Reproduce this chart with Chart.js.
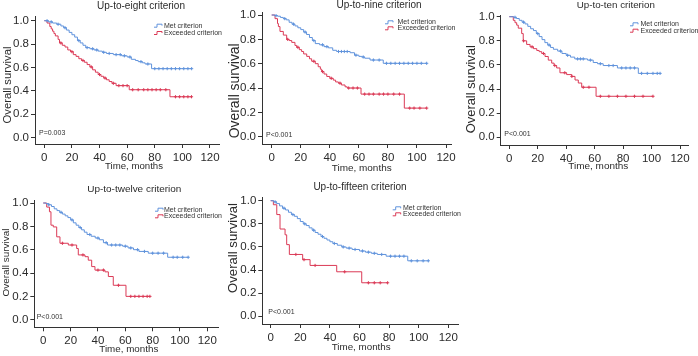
<!DOCTYPE html>
<html><head><meta charset="utf-8">
<script src="https://cdn.jsdelivr.net/npm/chart.js@4.4.1/dist/chart.umd.min.js"></script>
<style>
html,body{margin:0;padding:0;background:#fff;}
#wrap{position:relative;width:698px;height:356px;overflow:hidden;background:#fff;}
canvas{position:absolute;}
</style></head><body><div id="wrap"></div>
<script>
// ---------- text / categories ----------
const panelTitles = ["Up-to-eight criterion","Up-to-nine criterion","Up-to-ten criterion","Up-to-twelve criterion","Up-to-fifteen criterion"];
const seriesLabels = ["Met criterion","Exceeded criterion"];
const pValues = ["P=0.003","P<0.001","P<0.001","P<0.001","P<0.001"];
const xTickValues = [0,20,40,60,80,100,120];
const yTickValues = [0,0.2,0.4,0.6,0.8,1.0];
const xAxisTitle = "Time, months";
const yAxisTitle = "Overall survival";

// ---------- data: event times (months), survival after event, censor times ----------
const p1MetTime = [3,6,9,12,14,16,18,20,22,24,26,28,30,33,36,39,42,45,50,56,60,63,66,68,71,73,77.7];
const p1MetSurv = [0.99,0.98,0.97,0.955,0.94,0.92,0.90,0.88,0.86,0.83,0.81,0.79,0.77,0.76,0.75,0.74,0.73,0.72,0.71,0.70,0.69,0.67,0.66,0.65,0.64,0.63,0.59];
const p1MetCens = [2,5,10,15,25,31,35,38,43,47,52,55,58,62,70,75,80,83,86,89,92,95,98,101,104,106.7];
const p1ExcTime = [2,4,5,6,7,8,10,11,13,15,17,19,21,23,25,27,29,31,33,35,37,39,41,43,45,47,49,52,61.5,91];
const p1ExcSurv = [0.98,0.95,0.93,0.91,0.89,0.87,0.84,0.81,0.79,0.775,0.75,0.735,0.71,0.695,0.675,0.66,0.645,0.625,0.605,0.58,0.56,0.54,0.525,0.51,0.495,0.48,0.465,0.445,0.41,0.35];
const p1ExcCens = [12,20,28,34,40,44,50,54,57,60,64,68,72,75,78,81,84,88,95,98,101,104,106.6];

const p2MetTime = [2,4,6,8,10,12,14,16,18,20,22,24,26,28,30,33,36,39,42,44.7,54,57,60,62,64,67.7,76.8];
const p2MetSurv = [0.995,0.99,0.98,0.97,0.96,0.94,0.925,0.91,0.895,0.88,0.86,0.84,0.815,0.79,0.765,0.755,0.74,0.73,0.71,0.70,0.69,0.67,0.66,0.655,0.645,0.63,0.603];
const p2MetCens = [3,9,15,23,29,35,38,46,48,50,52,58,63,70,74,79,82,85,88,91,94,97,100,103,106.7];
const p2ExcTime = [2.3,4,4.6,5.7,8,10.3,12,13.8,16,17.2,19,20.6,22,24.1,26,27.5,30,32,33.5,34.4,36,37.9,40,42.4,44,45.9,48,50.5,52,61.5,91.3];
const p2ExcSurv = [0.97,0.93,0.905,0.865,0.835,0.80,0.79,0.775,0.75,0.735,0.715,0.70,0.68,0.66,0.64,0.62,0.60,0.575,0.555,0.535,0.515,0.495,0.48,0.465,0.45,0.44,0.425,0.41,0.40,0.35,0.235];
const p2ExcCens = [11,18,29,35,41,47,53,56,59,64,67,70,74,77,80,84,88,95,98,102,106.7];

const p3MetTime = [3,5,7,9,11,13,15,17,19,21,23,25,27,29,31,34,37,40,43,46,55,59,62,66,76,90.7];
const p3MetSurv = [0.995,0.985,0.97,0.955,0.94,0.92,0.90,0.885,0.86,0.835,0.81,0.785,0.765,0.745,0.73,0.715,0.695,0.68,0.665,0.65,0.64,0.62,0.61,0.595,0.575,0.53];
const p3MetCens = [4,10,20,28,36,41,48,50,52,57,64,70,73,79,82,85,88,93,97,101,104,106];
const p3ExcTime = [2.8,4,5.2,6.3,8.7,9.8,12.2,14.6,17,19.3,21,22.8,25.1,27.4,29.8,31.5,33.3,35.6,40.3,43.9,46.2,48.5,50.9,61];
const p3ExcSurv = [0.97,0.95,0.93,0.905,0.86,0.80,0.77,0.75,0.735,0.72,0.71,0.695,0.67,0.64,0.615,0.595,0.575,0.535,0.52,0.505,0.475,0.45,0.415,0.34];
const p3ExcCens = [10,16,24,32,39,44,52,56,64,70,76,82,88,94,101];

const p4MetTime = [2,4,6,8,10,12,14,16,18,20,22,24,26,28,30,32,35,38,41,44,47,58,62,66,70,76.8,91];
const p4MetSurv = [0.995,0.985,0.97,0.95,0.935,0.92,0.905,0.89,0.875,0.855,0.83,0.81,0.79,0.77,0.75,0.73,0.715,0.70,0.685,0.66,0.64,0.63,0.615,0.60,0.585,0.57,0.535];
const p4MetCens = [4,13,21,27,34,40,46,50,53,56,60,64,69,74,80,84,88,95,98,102,106];
const p4ExcTime = [2.5,4.5,5.6,7.3,9.8,12.2,18.3,24.4,25.6,30.5,32.9,35.4,37.8,45.1,47.6,51.2,60.5];
const p4ExcSurv = [0.965,0.925,0.81,0.795,0.71,0.655,0.64,0.61,0.555,0.54,0.51,0.455,0.425,0.41,0.37,0.295,0.20];
const p4ExcCens = [14,21,29,40,44,55,64,67,70,73,76,78];

const p5MetTime = [2,4,6,8,10,12,14,16,18,20,22,24,26,28,30,32,34,36,38,40,42,45,48,51,55,60,64,68,72,78,92.6];
const p5MetSurv = [0.99,0.975,0.955,0.935,0.92,0.90,0.88,0.865,0.845,0.82,0.80,0.785,0.765,0.745,0.725,0.71,0.69,0.675,0.66,0.645,0.63,0.615,0.60,0.59,0.578,0.565,0.555,0.545,0.535,0.52,0.48];
const p5MetCens = [3,9,15,23,29,35,43,49,53,57,62,66,70,75,81,84,87,90,95,99,103,106.5];
const p5ExcTime = [1.8,4.1,6.3,9.7,10.8,12.6,21.6,26.6,44.6,61.5];
const p5ExcSurv = [0.965,0.88,0.755,0.705,0.62,0.535,0.49,0.44,0.385,0.29];
const p5ExcCens = [17,22.5,30,50,66,70,74,79];

// ---------- layout (page pixels) ----------
const BLUE = '#6093dc', RED = '#db3a56';
const panels = [
  {canvas:[0,0,232,176], plot:[35,16,219,144], xCal:[44.3,210], yCal:[20.7,137.7],
   title:[141,6,88], xT:[134,166.7,58], yT:[8.3,85,77], leg:[154,164,25.7,33], p:[39,133.3],
   met:[p1MetTime,p1MetSurv,p1MetCens], exc:[p1ExcTime,p1ExcSurv,p1ExcCens]},
  {canvas:[228,0,236,176], plot:[262,12.5,451.7,144], xCal:[271.7,446], yCal:[15,136.7],
   title:[379,5.5,85], xT:[361.7,168.3,60], yT:[235,90.8,95], leg:[385,397.5,22.3,28.3], p:[266,135],
   met:[p2MetTime,p2MetSurv,p2MetCens], exc:[p2ExcTime,p2ExcSurv,p2ExcCens]},
  {canvas:[462,0,236,176], plot:[500.7,15,688,145], xCal:[509.3,680], yCal:[16.7,137.3],
   title:[615.8,5.2,78.3], xT:[598.3,166.7,60], yT:[471.3,89.2,88], leg:[630,640.5,24.3,30.7], p:[504.3,134.3],
   met:[p3MetTime,p3MetSurv,p3MetCens], exc:[p3ExcTime,p3ExcSurv,p3ExcCens]},
  {canvas:[0,178,232,178], plot:[34.3,200,218,327.3], xCal:[43.3,207.3], yCal:[203,319.7],
   title:[134.3,189,94.3], xT:[128.8,349.3,59], yT:[6,262.5,68], leg:[155,164,209.7,216.3], p:[36.7,316.7],
   met:[p4MetTime,p4MetSurv,p4MetCens], exc:[p4ExcTime,p4ExcSurv,p4ExcCens]},
  {canvas:[228,178,242,178], plot:[262.3,197.7,458,324], xCal:[270.7,448.3], yCal:[200.7,316.3],
   title:[360,187.3,93.3], xT:[361.2,347.3,59], yT:[233.5,248,90], leg:[392.7,403,208.3,214.3], p:[268.3,311.7],
   met:[p5MetTime,p5MetSurv,p5MetCens], exc:[p5ExcTime,p5ExcSurv,p5ExcCens]}
];

const FONT = '"Liberation Sans", Arial, Helvetica, sans-serif';
const TXT = '#2b2b2b';
Chart.defaults.font.family = FONT;
Chart.defaults.color = TXT;

function levelAt(times, surv, t){ let s = 1; for (let i=0;i<times.length;i++){ if (times[i] <= t) s = surv[i]; } return s; }
function buildSeries(times, surv, cens){
  const pts = [{x:0,y:1,c:false}];
  times.forEach((t,i)=>pts.push({x:t,y:surv[i],c:false}));
  cens.forEach(t=>pts.push({x:t,y:levelAt(times,surv,t),c:true}));
  pts.sort((a,b)=> (a.x-b.x) || (a.c?1:-1));
  return pts;
}
function fitFont(ctx, text, target){
  ctx.font = '10px ' + FONT;
  const w = ctx.measureText(text).width;
  return 10*target/w;
}

const wrap = document.getElementById('wrap');
panels.forEach((P, idx)=>{
  const [cl, ct, cw, ch] = P.canvas;
  const [pl, pt, pr, pb] = P.plot;
  const cv = document.createElement('canvas');
  cv.width = cw; cv.height = ch;
  cv.style.left = cl+'px'; cv.style.top = ct+'px';
  cv.style.width = cw+'px'; cv.style.height = ch+'px';
  wrap.appendChild(cv);

  const ppx = (P.xCal[1]-P.xCal[0])/120;
  const xmin = (pl - P.xCal[0])/ppx, xmax = (pr - P.xCal[0])/ppx;
  const ppy = P.yCal[1]-P.yCal[0];
  const ymax = (P.yCal[1]-pt)/ppy, ymin = (P.yCal[1]-pb)/ppy;
  const yw = pl - cl, xh = ct + ch - pb;

  const textPlugin = {
    id: 'panelText'+idx,
    afterDraw(chart){
      const ctx = chart.ctx;
      ctx.save();
      ctx.translate(-cl, -ct);
      ctx.textBaseline = 'middle';
      ctx.fillStyle = TXT; ctx.textAlign = 'center';
      let fs = fitFont(ctx, panelTitles[idx], P.title[2]);
      ctx.font = fs.toFixed(2)+'px '+FONT;
      ctx.fillText(panelTitles[idx], P.title[0], P.title[1]);
      fs = fitFont(ctx, xAxisTitle, P.xT[2]);
      ctx.font = fs.toFixed(2)+'px '+FONT;
      ctx.fillText(xAxisTitle, P.xT[0], P.xT[1]);
      fs = fitFont(ctx, yAxisTitle, P.yT[2]);
      ctx.save();
      ctx.translate(P.yT[0], P.yT[1]); ctx.rotate(-Math.PI/2);
      ctx.font = fs.toFixed(2)+'px '+FONT;
      ctx.fillText(yAxisTitle, 0, 0);
      ctx.restore();
      ctx.textAlign = 'left'; ctx.fillStyle = '#333';
      ctx.font = '7px '+FONT;
      ctx.fillText(pValues[idx], P.p[0], P.p[1]);
      const [sx, tx, y1, y2] = P.leg;
      [[BLUE,y1,seriesLabels[0]],[RED,y2,seriesLabels[1]]].forEach(([col,y,lab])=>{
        ctx.strokeStyle = col; ctx.lineWidth = 1;
        ctx.beginPath();
        ctx.moveTo(sx, y+1.5); ctx.lineTo(sx+3, y+1.5); ctx.lineTo(sx+3, y-1.5); ctx.lineTo(sx+8, y-1.5); ctx.lineTo(sx+8, y);
        ctx.stroke();
        ctx.fillStyle = '#333';
        ctx.font = '7px '+FONT;
        ctx.fillText(lab, tx, y);
      });
      ctx.restore();
    }
  };

  const mk = (arr, col, label) => ({
    label, data: buildSeries(arr[0], arr[1], arr[2]),
    borderColor: col, backgroundColor: col, borderWidth: 1, stepped: true, fill: false,
    pointStyle: 'cross', pointBorderColor: col, pointBorderWidth: 1,
    pointRadius: c => (c.raw && c.raw.c) ? 1.6 : 0, pointHoverRadius: 0
  });

  new Chart(cv, {
    type: 'line',
    data: { datasets: [ mk(P.met, BLUE, seriesLabels[0]), mk(P.exc, RED, seriesLabels[1]) ] },
    options: {
      responsive: false, animation: false, events: [],
      layout: { padding: { left: 0, top: pt - ct, right: cl + cw - pr, bottom: 0 } },
      plugins: { legend: { display: false }, title: { display: false }, tooltip: { enabled: false } },
      scales: {
        x: {
          type: 'linear', min: xmin, max: xmax,
          afterBuildTicks: s => { s.ticks = xTickValues.map(v => ({ value: v })); },
          afterFit: s => { s.height = xh; },
          ticks: { font: { size: 11.5 }, color: TXT, padding: 3, maxRotation: 0, autoSkip: false, callback: v => String(v) },
          grid: { display: true, drawOnChartArea: false, drawTicks: true, tickLength: 4, color: '#333', lineWidth: 1 },
          border: { display: true, color: '#333', width: 1 }
        },
        y: {
          type: 'linear', min: ymin, max: ymax,
          afterBuildTicks: s => { s.ticks = yTickValues.map(v => ({ value: v })); },
          afterFit: s => { s.width = yw; },
          ticks: { font: { size: 11.5 }, color: TXT, padding: 2, autoSkip: false, callback: v => Number(v).toFixed(1) },
          grid: { display: true, drawOnChartArea: false, drawTicks: true, tickLength: 4, color: '#333', lineWidth: 1 },
          border: { display: true, color: '#333', width: 1 }
        }
      }
    },
    plugins: [textPlugin]
  });
});
</script>
</body></html>
